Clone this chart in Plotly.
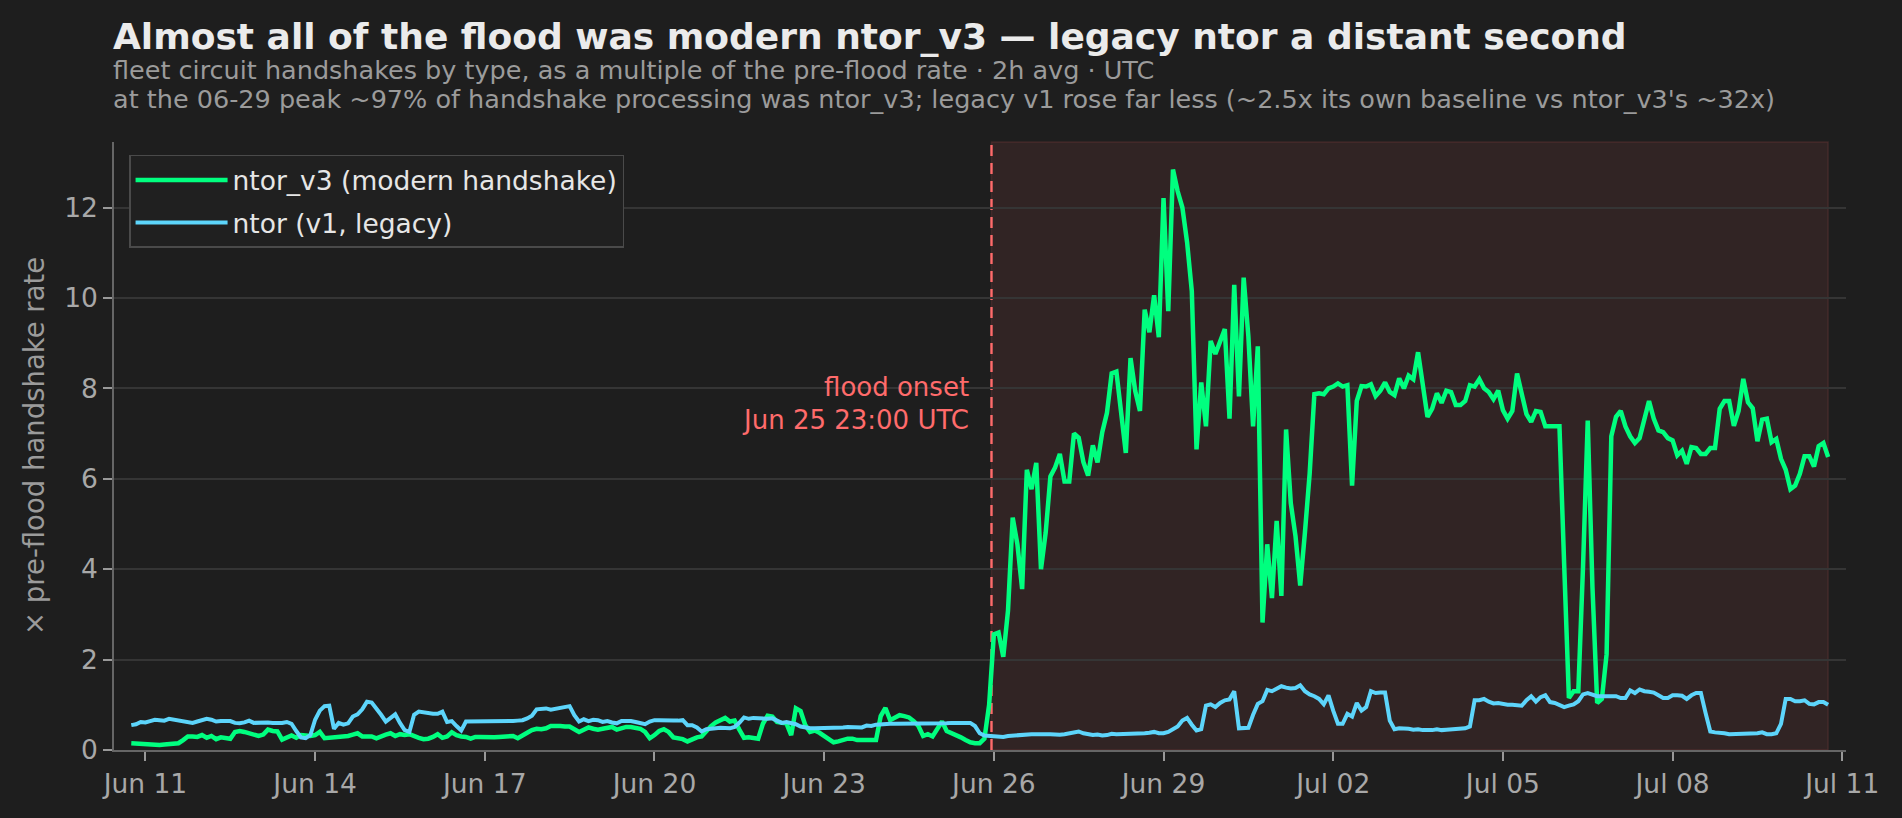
import pandas as pd
import plotly.graph_objects as go

# ---------------- data (2h averages, multiple of pre-flood rate) ----------------
start_time = "2025-06-10 18:00"
step = "2h"

ntor_v3 = [
    0.15, 0.14, 0.13, 0.13, 0.12, 0.11, 0.11, 0.12, 0.13, 0.14, 0.15,
    0.22, 0.30, 0.30, 0.29, 0.33, 0.27, 0.31, 0.24, 0.28, 0.27, 0.25,
    0.40, 0.42, 0.40, 0.37, 0.36, 0.31, 0.34, 0.45, 0.42, 0.41, 0.23,
    0.28, 0.32, 0.27, 0.33, 0.32, 0.31, 0.33, 0.40, 0.26, 0.27, 0.29, 0.29,
    0.29, 0.31, 0.34, 0.37, 0.30, 0.29, 0.30, 0.26, 0.31, 0.34, 0.37, 0.31,
    0.35, 0.33, 0.35, 0.30, 0.27, 0.24, 0.25, 0.29, 0.35, 0.27, 0.30, 0.39,
    0.33, 0.30, 0.29, 0.25, 0.29, 0.29, 0.28, 0.29, 0.28, 0.29, 0.29, 0.29,
    0.31, 0.26, 0.33, 0.38, 0.44, 0.47, 0.46, 0.48, 0.53, 0.54, 0.53,
    0.52, 0.52, 0.46, 0.40, 0.45, 0.50, 0.47, 0.45, 0.47, 0.50, 0.51, 0.45,
    0.48, 0.51, 0.51, 0.50, 0.47, 0.40, 0.26, 0.33, 0.42, 0.46, 0.40, 0.28,
    0.26, 0.24, 0.19, 0.24, 0.28, 0.30, 0.43, 0.53, 0.61, 0.65, 0.71, 0.63,
    0.65, 0.45, 0.27, 0.28, 0.27, 0.25, 0.58, 0.76, 0.74, 0.62, 0.60, 0.59,
    0.33, 0.92, 0.86, 0.55, 0.40, 0.43, 0.38, 0.30, 0.22, 0.17, 0.19, 0.23,
    0.25, 0.25, 0.22, 0.22, 0.22, 0.23, 0.22, 0.75, 0.93, 0.66, 0.72, 0.77,
    0.75, 0.72, 0.64, 0.53, 0.31, 0.35, 0.30, 0.45, 0.63, 0.42, 0.38, 0.34,
    0.28, 0.22, 0.17, 0.15, 0.15, 0.25, 1.00,
    2.56, 2.60, 2.06, 3.08, 5.14, 4.55, 3.56, 6.20, 5.77, 6.35, 4.00, 4.81,
    6.05, 6.25, 6.55, 5.94, 5.94, 7.00, 6.91, 6.37, 6.07, 6.74, 6.36, 7.03,
    7.46, 8.33, 8.37, 7.42, 6.57, 8.67, 7.94, 7.50, 9.74, 9.24, 10.06, 9.13,
    12.21, 9.71, 12.84, 12.36, 12.00, 11.23, 10.15, 6.65, 8.13, 7.16, 9.05, 8.76,
    9.02, 9.31, 7.33, 10.29, 7.82, 10.45, 9.15, 7.16, 8.93, 2.82, 4.55, 3.36,
    5.07, 3.41, 7.09, 5.46, 4.73, 3.64, 4.81, 6.11, 7.87, 7.89, 7.87, 8.00,
    8.04, 8.11, 8.04, 8.07, 5.85, 7.72, 8.05, 8.04, 8.09, 7.83, 7.95, 8.13,
    7.92, 7.85, 8.22, 8.00, 8.28, 8.20, 8.80, 8.05, 7.37, 7.55, 7.89, 7.68,
    7.95, 7.92, 7.63, 7.63, 7.72, 8.07, 8.04, 8.20,
    8.00, 7.92, 7.76, 7.95, 7.52, 7.33, 7.50, 8.33, 7.87, 7.43, 7.26, 7.50,
    7.48, 7.16, 7.16, 7.16, 7.16, 4.10, 1.15, 1.30, 1.30, 4.06, 7.29, 3.60,
    1.04, 1.13, 2.12, 6.94, 7.37, 7.50, 7.16, 6.94, 6.79, 6.90, 7.33, 7.72,
    7.33, 7.07, 7.03, 6.90, 6.85, 6.52, 6.62, 6.33, 6.70, 6.68, 6.55, 6.55,
    6.68, 6.68, 7.55, 7.72, 7.72, 7.17, 7.50, 8.21, 7.69, 7.56, 6.83, 7.31,
    7.33, 6.81, 6.88, 6.44, 6.20, 5.77, 5.85, 6.11, 6.50, 6.50, 6.27, 6.72,
    6.79, 6.48,
]

ntor_v1 = [
    0.55, 0.57, 0.62, 0.61, 0.64, 0.67, 0.66, 0.65, 0.69, 0.67, 0.65, 0.62,
    0.60, 0.60, 0.63, 0.67, 0.69, 0.67, 0.63, 0.64, 0.65, 0.64, 0.60, 0.59,
    0.61, 0.65, 0.60, 0.61, 0.61, 0.61, 0.60, 0.59, 0.60, 0.62, 0.58, 0.42,
    0.28, 0.26, 0.33, 0.67, 0.87, 0.97, 0.98, 0.47, 0.60, 0.56, 0.59, 0.74,
    0.79, 0.90, 1.07, 1.05, 0.93, 0.78, 0.63, 0.70, 0.79, 0.60, 0.44, 0.40,
    0.78, 0.85, 0.83, 0.81, 0.80, 0.80, 0.85, 0.62, 0.64, 0.53, 0.43, 0.63,
    0.63, 0.63, 0.62, 0.62, 0.62, 0.62, 0.63, 0.63, 0.64, 0.64, 0.65, 0.66,
    0.70, 0.76, 0.90, 0.92, 0.92, 0.89, 0.91, 0.92, 0.93, 0.97, 0.77, 0.63,
    0.68, 0.64, 0.67, 0.66, 0.62, 0.64, 0.61, 0.59, 0.64, 0.65, 0.64, 0.62,
    0.60, 0.57, 0.63, 0.66, 0.66, 0.65, 0.65, 0.65, 0.65, 0.66, 0.55, 0.55,
    0.50, 0.41, 0.46, 0.48, 0.48, 0.49, 0.48, 0.48, 0.51, 0.60, 0.72, 0.69,
    0.71, 0.70, 0.68, 0.69, 0.70, 0.64, 0.60, 0.62, 0.60, 0.57, 0.52, 0.49,
    0.48, 0.48, 0.48, 0.48, 0.49, 0.49, 0.50, 0.50, 0.51, 0.51, 0.50, 0.50,
    0.54, 0.53, 0.56, 0.57, 0.59, 0.58, 0.58, 0.58, 0.57, 0.58, 0.59, 0.58,
    0.57, 0.58, 0.57, 0.57, 0.58, 0.59, 0.60, 0.60, 0.60, 0.60, 0.60, 0.53,
    0.37, 0.32, 0.31,
    0.30, 0.30, 0.29, 0.31, 0.32, 0.33, 0.35, 0.34, 0.35, 0.35, 0.34, 0.35,
    0.35, 0.34, 0.34, 0.35, 0.37, 0.39, 0.41, 0.37, 0.34, 0.33, 0.34, 0.32,
    0.33, 0.36, 0.35, 0.35, 0.35, 0.36, 0.36, 0.37, 0.37, 0.38, 0.40, 0.37,
    0.37, 0.40, 0.45, 0.52, 0.65, 0.71, 0.56, 0.43, 0.46, 0.98, 1.01, 0.95,
    1.04, 1.10, 1.12, 1.30, 0.48, 0.48, 0.49, 0.78, 1.02, 1.08, 1.33, 1.30,
    1.36, 1.41, 1.38, 1.36, 1.37, 1.43, 1.30, 1.23, 1.19, 1.13, 1.01, 1.21,
    0.87, 0.58, 0.58, 0.80, 0.74, 1.04, 0.87, 0.95, 1.30, 1.26, 1.27, 1.27,
    0.65, 0.46, 0.48, 0.48, 0.47, 0.45, 0.46, 0.44, 0.43, 0.44, 0.46, 0.44,
    0.45, 0.46, 0.46, 0.47, 0.48, 0.52, 1.10, 1.10, 1.13, 1.07, 1.03, 1.04,
    1.01, 1.00, 1.00, 1.00, 0.98, 1.10, 1.19, 1.07, 1.17, 1.21, 1.06, 1.04,
    1.00, 0.95, 0.98, 1.01, 1.08, 1.23, 1.26, 1.22, 1.19, 1.19, 1.19, 1.19,
    1.19, 1.15, 1.15, 1.32, 1.26, 1.34, 1.30, 1.29, 1.27, 1.21, 1.15, 1.15,
    1.21, 1.21, 1.20, 1.13, 1.21, 1.26, 1.26, 0.82, 0.41, 0.39, 0.39, 0.37,
    0.35, 0.35, 0.36, 0.37, 0.37, 0.37, 0.37, 0.39, 0.35, 0.35, 0.37, 0.58,
    1.13, 1.13, 1.08, 1.08, 1.10, 1.02, 1.01, 1.06, 1.06, 1.00,
]

series_names = ["ntor_v3 (modern handshake)", "ntor (v1, legacy)"]
tick_dates = ["2025-06-11", "2025-06-14", "2025-06-17", "2025-06-20", "2025-06-23",
              "2025-06-26", "2025-06-29", "2025-07-02", "2025-07-05", "2025-07-08",
              "2025-07-11"]
tick_labels = ["Jun 11", "Jun 14", "Jun 17", "Jun 20", "Jun 23", "Jun 26",
               "Jun 29", "Jul 02", "Jul 05", "Jul 08", "Jul 11"]
y_ticks = [0, 2, 4, 6, 8, 10, 12]
flood_onset = "2025-06-25 23:00"

n = min(len(ntor_v3), len(ntor_v1))
times = pd.date_range(start_time, periods=n, freq=step)
flood_end = times[-1]

# ---------------- styling ----------------
BG = "#1e1e1e"
GREEN = "#00ff7f"
BLUE = "#5dd5fb"
RED = "#ff6b6b"
FONT = "DejaVu Sans"

fig = go.Figure()
fig.add_trace(go.Scatter(x=times, y=ntor_v3[:n], mode="lines", name=series_names[0],
                         legendgroup="a", line=dict(color=GREEN, width=4.5)))
fig.add_trace(go.Scatter(x=times, y=ntor_v1[:n], mode="lines", name=series_names[1],
                         legendgroup="b", line=dict(color=BLUE, width=4.0)))

# flood period shading and onset marker
fig.add_shape(type="rect", xref="x", yref="paper", x0=flood_onset, x1=flood_end,
              y0=0, y1=1, fillcolor="rgba(255,107,107,0.085)",
              line=dict(color="rgba(255,107,107,0.12)", width=1.5), layer="below")
fig.add_shape(type="line", xref="x", yref="paper", x0=flood_onset, x1=flood_onset,
              y0=0, y1=1, line=dict(color=RED, width=2.4, dash="11px,7px"), layer="below")

fig.add_annotation(x=flood_onset, y=8.02, xref="x", yref="y", text="flood onset",
                   showarrow=False, xanchor="right", yanchor="middle", xshift=-20,
                   font=dict(family=FONT, size=26, color=RED))
fig.add_annotation(x=flood_onset, y=7.29, xref="x", yref="y", text="Jun 25 23:00 UTC",
                   showarrow=False, xanchor="right", yanchor="middle", xshift=-20,
                   font=dict(family=FONT, size=26, color=RED))

# title block
fig.add_annotation(x=0, y=1.1735, xref="paper", yref="paper", xanchor="left", yanchor="middle",
                   showarrow=False, xshift=-3,
                   text="<b>Almost all of the flood was modern ntor_v3 — legacy ntor a distant second</b>",
                   font=dict(family=FONT, size=36, color="#ebebeb"))
fig.add_annotation(x=0, y=1.1176, xref="paper", yref="paper", xanchor="left", yanchor="middle",
                   showarrow=False, xshift=-3,
                   text="fleet circuit handshakes by type, as a multiple of the pre-flood rate · 2h avg · UTC",
                   font=dict(family=FONT, size=25.5, color="#9b9b9b"))
fig.add_annotation(x=0, y=1.0704, xref="paper", yref="paper", xanchor="left", yanchor="middle",
                   showarrow=False, xshift=-3,
                   text="at the 06-29 peak ~97% of handshake processing was ntor_v3; legacy v1 rose far less (~2.5x its own baseline vs ntor_v3's ~32x)",
                   font=dict(family=FONT, size=25.5, color="#9b9b9b"))
# y-axis label
fig.add_annotation(x=-0.0462, y=0.5, xref="paper", yref="paper", xanchor="center", yanchor="middle",
                   showarrow=False, textangle=-90, text="× pre-flood handshake rate",
                   font=dict(family=FONT, size=27.5, color="#9b9b9b"))

fig.update_layout(
    width=1902, height=818,
    paper_bgcolor=BG, plot_bgcolor=BG,
    margin=dict(l=114, r=56, t=142, b=68, pad=0),
    font=dict(family=FONT, color="#a8a8a8"),
    showlegend=True,
    legend=dict(x=0.0087, y=0.979, xanchor="left", yanchor="top",
                bgcolor="#202020", bordercolor="#4a4a4a", borderwidth=1.5,
                font=dict(family=FONT, size=26.5, color="#e6e6e6"),
                tracegroupgap=5, itemwidth=92),
    xaxis=dict(range=["2025-06-10 10:40", "2025-07-11 01:35"],
               tickvals=tick_dates, ticktext=tick_labels,
               showgrid=False, zeroline=False,
               showline=True, linecolor="#666666", linewidth=1.6,
               ticks="outside", ticklen=9, tickwidth=1.6, tickcolor="#999999",
               tickfont=dict(family=FONT, size=26.5, color="#a8a8a8")),
    yaxis=dict(range=[0, 13.45], tickvals=y_ticks,
               showgrid=True, gridcolor="#353535", gridwidth=1.5,
               zeroline=False,
               showline=True, linecolor="#666666", linewidth=1.6,
               ticks="outside", ticklen=9, tickwidth=1.6, tickcolor="#999999",
               tickfont=dict(family=FONT, size=26.5, color="#a8a8a8")),
)

fig.write_html("out.html", config={"displayModeBar": False},
               post_script="document.body.style.margin='0';document.body.style.overflow='hidden';")
